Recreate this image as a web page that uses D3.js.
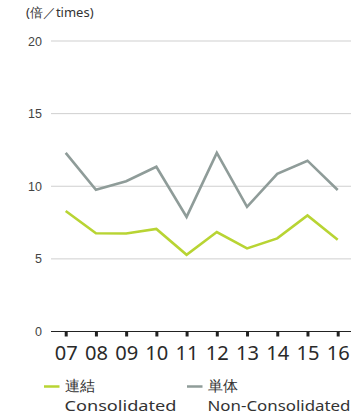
<!DOCTYPE html>
<html><head><meta charset="utf-8">
<script src="https://cdn.jsdelivr.net/npm/d3@7"></script>
<style>
html,body{margin:0;padding:0;background:#fff;}
svg{display:block;font-family:"Noto Sans","Open Sans",sans-serif;}
</style></head>
<body><svg id="c" width="363" height="415"></svg>
<script>
const years = ["07","08","09","10","11","12","13","14","15","16"];
const consolidated = [8.3,6.76,6.75,7.06,5.28,6.85,5.72,6.41,7.99,6.32];
const nonConsolidated = [12.3,9.76,10.35,11.34,7.89,12.3,8.58,10.85,11.76,9.74];
const yTicks = [0,5,10,15,20];
const unitLabel = "(倍／times)";
const legendItems = [
  {jp:"連結", en:"Consolidated", color:"#b8d433"},
  {jp:"単体", en:"Non-Consolidated", color:"#8f9c99"}
];

const svg = d3.select("#c");
const x = d3.scalePoint().domain(years).range([65.7, 337.7]);
const y = d3.scaleLinear().domain([0,20]).range([331.5, 41]);

// unit label
svg.append("text").attr("x",26).attr("y",17).attr("font-size",13).attr("fill","#333").text(unitLabel);

// grid
const yAxis = d3.axisLeft(y).tickValues(yTicks).tickSize(0).tickPadding(9);
const ga = svg.append("g").attr("transform","translate(51,0)").call(yAxis);
ga.select(".domain").remove();
ga.selectAll("text").attr("font-size",12.5).attr("fill","#444").attr("font-family","inherit");
svg.append("g").selectAll("line").data(yTicks.filter(d=>d>0)).join("line")
  .attr("x1",51).attr("x2",351).attr("y1",d=>y(d)).attr("y2",d=>y(d))
  .attr("stroke","#cfcfcf").attr("stroke-width",1);

// x axis
const xAxis = d3.axisBottom(x).tickSize(5).tickPadding(9);
const gx = svg.append("g").attr("transform",`translate(0,${y(0)})`).call(xAxis);
gx.select(".domain").remove();
gx.append("line").attr("x1",51).attr("x2",351).attr("y1",0).attr("y2",0).attr("stroke","#222").attr("stroke-width",1.2);
gx.selectAll(".tick line").attr("stroke","#222").attr("stroke-width",3);
gx.selectAll("text").attr("font-size",20).attr("fill","#2a2a2a").attr("font-weight",400)
  .attr("font-family","'Noto Sans',sans-serif").attr("textLength",23).attr("lengthAdjust","spacingAndGlyphs");

// lines
const line = d3.line().x((d,i)=>x(years[i])).y(d=>y(d));
svg.append("path").datum(nonConsolidated).attr("d",line).attr("fill","none")
  .attr("stroke",legendItems[1].color).attr("stroke-width",2.6).attr("stroke-linejoin","miter");
svg.append("path").datum(consolidated).attr("d",line).attr("fill","none")
  .attr("stroke",legendItems[0].color).attr("stroke-width",2.6).attr("stroke-linejoin","miter");

// legend
const lx = [44,187];
const enW = [112,143];
legendItems.forEach((it,i)=>{
  const g = svg.append("g").attr("transform",`translate(${lx[i]},0)`);
  g.append("line").attr("x1",0).attr("x2",15.5).attr("y1",386.5).attr("y2",386.5).attr("stroke",it.color).attr("stroke-width",2.5);
  g.append("text").attr("x",20.5).attr("y",390.5).attr("font-size",15).attr("fill","#333").attr("font-weight",400).text(it.jp);
  g.append("text").attr("x",20.5).attr("y",410.5).attr("font-size",14.5).attr("fill","#333").attr("font-weight",400)
    .attr("font-family","'Noto Sans',sans-serif")
    .attr("textLength",enW[i]).attr("lengthAdjust","spacingAndGlyphs").text(it.en);
});
</script></body></html>
